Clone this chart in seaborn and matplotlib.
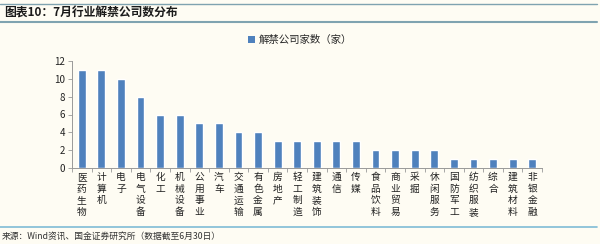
import matplotlib
matplotlib.use("Agg")
import matplotlib.pyplot as plt
import seaborn as sns
import pandas as pd
from matplotlib.lines import Line2D
from matplotlib.patches import Patch

categories = ["医药生物", "计算机", "电子", "电气设备", "化工", "机械设备", "公用事业", "汽车",
              "交通运输", "有色金属", "房地产", "轻工制造", "建筑装饰", "通信", "传媒", "食品饮料",
              "商业贸易", "采掘", "休闲服务", "国防军工", "纺织服装", "综合", "建筑材料", "非银金融"]
values = [11, 11, 10, 8, 6, 6, 5, 5, 4, 4, 3, 3, 3, 3, 3, 2, 2, 2, 2, 1, 1, 1, 1, 1]
series_name = "解禁公司家数（家）"
yticks = [0, 2, 4, 6, 8, 10, 12]
title = "图表10：7月行业解禁公司数分布"
source = "来源：Wind资讯、国金证券研究所（数据截至6月30日）"

sns.set_theme(style="white")
plt.rcParams['font.family'] = ['Noto Sans CJK SC', 'DejaVu Sans']
bg = "#fefcf3"
bar_color = "#4f81bd"

df = pd.DataFrame({"cat": categories, "val": values})

fig = plt.figure(figsize=(6, 2.44), dpi=100, facecolor=bg)
ax = fig.add_axes([72/600, 1-168/244, (542-72)/600, (168-61)/244])
ax.set_facecolor(bg)
sns.barplot(data=df, x="cat", y="val", color=bar_color, width=0.4, ax=ax, saturation=1)

ax.set_xlim(-0.5, len(categories)-0.5)
ax.set_ylim(0, 12)
ax.set_yticks(yticks)
ax.set_yticklabels([str(t) for t in yticks], fontsize=7, color="#222222")
ax.set_xticks(range(len(categories)))
ax.set_xticklabels(["\n".join(c) for c in categories], fontsize=7, color="#222222",
                   linespacing=1.2, va="top")
ax.tick_params(axis="x", which="major", length=0, pad=3)
ax.set_xticks([i - 0.5 for i in range(len(categories)+1)], minor=True)
ax.tick_params(axis="x", which="minor", length=3, color="#999999", width=0.6, direction="out", bottom=True)
ax.tick_params(axis="y", length=3, color="#999999", width=0.6, direction="out", left=True, pad=2)
ax.set_xlabel("")
ax.set_ylabel("")
for s in ["top", "right"]:
    ax.spines[s].set_visible(False)
for s in ["left", "bottom"]:
    ax.spines[s].set_color("#999999")
    ax.spines[s].set_linewidth(0.7)

handle = Patch(facecolor=bar_color, edgecolor="none")
fig.legend([handle], [series_name], loc="center", bbox_to_anchor=(300/600, 1-40/244),
           frameon=False, fontsize=7.5, handlelength=0.7, handleheight=0.7, handletextpad=0.3)

# decorative lines
fig.add_artist(Line2D([0, 597/600], [1-4/244, 1-4/244], color="#7fa3b0", lw=1.0))
fig.add_artist(Line2D([0, 597/600], [1-22/244, 1-22/244], color="#7fa3b0", lw=1.5))
fig.add_artist(Line2D([0, 597/600], [1-227/244, 1-227/244], color="#7fbcd6", lw=1.2))

fig.text(4/600, 1-13/244, title, fontsize=8.5, fontweight="bold", color="#1a1a1a",
         va="center", ha="left", style="italic")
fig.text(2/600, 1-236/244, source, fontsize=6.3, color="#333333", va="center", ha="left")

fig.savefig("out.png", dpi=100, facecolor=bg)
